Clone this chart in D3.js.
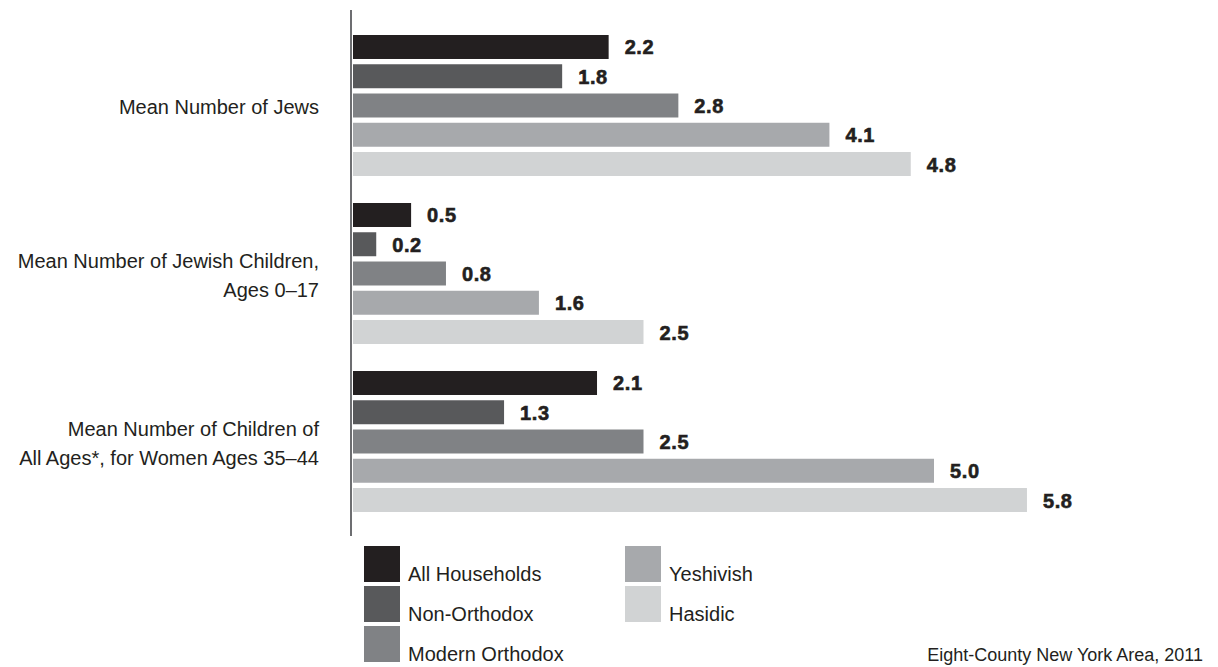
<!DOCTYPE html>
<html>
<head>
<meta charset="utf-8">
<script src="https://cdn.jsdelivr.net/npm/d3@7"></script>
<style>
  html, body { margin: 0; padding: 0; background: #ffffff; }
  svg { display: block; }
</style>
</head>
<body>
<svg id="chart" width="1218" height="667"></svg>
<script>
// ---- Data ----
const categories = [
  ["Mean Number of Jews"],
  ["Mean Number of Jewish Children,", "Ages 0\u201317"],
  ["Mean Number of Children of", "All Ages*, for Women Ages 35\u201344"]
];
const seriesNames = ["All Households", "Non-Orthodox", "Modern Orthodox", "Yeshivish", "Hasidic"];
const allHouseholds = [2.2, 0.5, 2.1];
const nonOrthodox   = [1.8, 0.2, 1.3];
const modernOrthodox = [2.8, 0.8, 2.5];
const yeshivish     = [4.1, 1.6, 5.0];
const hasidic       = [4.8, 2.5, 5.8];
const seriesValues = [allHouseholds, nonOrthodox, modernOrthodox, yeshivish, hasidic];
const seriesColors = ["#231f20", "#58595b", "#808285", "#a7a9ac", "#d1d3d4"];
const footnote = "Eight-County New York Area, 2011";

// ---- Layout ----
const svg = d3.select("#chart");
const groupIdx = categories.map((d, i) => i);

const x = d3.scaleLinear().domain([0, 6]).range([353, 353 + 6 * 116.2]);
const y0 = d3.scaleBand().domain(groupIdx).range([35, 512]).paddingInner(27 / 168).paddingOuter(0);
const y1 = d3.scaleBand().domain(seriesNames).range([0, y0.bandwidth()]).paddingInner(0.18).paddingOuter(0);
const color = d3.scaleOrdinal().domain(seriesNames).range(seriesColors);

const fontReg = "'Liberation Sans', Arial, sans-serif";
const fontBold = "'Liberation Sans', Arial, sans-serif";

// Bars
const groups = svg.append("g").selectAll("g").data(groupIdx).join("g")
  .attr("transform", g => `translate(0,${y0(g)})`);

groups.selectAll("rect")
  .data(g => seriesNames.map((s, si) => ({ s, v: seriesValues[si][g] })))
  .join("rect")
  .attr("x", x(0))
  .attr("y", d => y1(d.s))
  .attr("width", d => x(d.v) - x(0))
  .attr("height", y1.bandwidth())
  .attr("fill", d => color(d.s));

groups.selectAll("text.val")
  .data(g => seriesNames.map((s, si) => ({ s, v: seriesValues[si][g] })))
  .join("text")
  .attr("class", "val")
  .attr("x", d => x(d.v) + 16)
  .attr("y", d => y1(d.s) + y1.bandwidth() / 2 + 7.5)
  .attr("font-family", fontBold)
  .attr("font-weight", "bold")
  .attr("font-size", "20px")
  .attr("letter-spacing", "0.6px")
  .attr("fill", "#231f20")
  .attr("stroke", "#231f20")
  .attr("stroke-width", 0.6)
  .text(d => d3.format(".1f")(d.v));

// Axis line
svg.append("line")
  .attr("x1", 351).attr("x2", 351)
  .attr("y1", 10).attr("y2", 536)
  .attr("stroke", "#6d6e71").attr("stroke-width", 2);

// Category labels
const lineGap = 29;
svg.append("g").selectAll("text").data(groupIdx).join("text")
  .attr("text-anchor", "end")
  .attr("font-family", fontReg)
  .attr("font-size", "20px")
  .attr("fill", "#231f20")
  .each(function (g) {
    const lines = categories[g];
    const cy = y0(g) + y0.bandwidth() / 2 + 1.5;
    const start = cy - (lines.length - 1) * lineGap / 2;
    d3.select(this).selectAll("tspan").data(lines).join("tspan")
      .attr("x", 319)
      .attr("y", (l, i) => start + i * lineGap + 7)
      .text(l => l);
  });

// Legend
const legendItems = seriesNames.map((s, i) => ({
  s,
  col: i < 3 ? 0 : 1,
  row: i < 3 ? i : i - 3
}));
const legend = svg.append("g").selectAll("g").data(legendItems).join("g")
  .attr("transform", d => `translate(${d.col === 0 ? 364 : 625},${546 + d.row * 40})`);
legend.append("rect")
  .attr("width", 36).attr("height", 36)
  .attr("fill", d => color(d.s));
legend.append("text")
  .attr("x", 44).attr("y", 35)
  .attr("font-family", fontReg)
  .attr("font-size", "20px")
  .attr("fill", "#231f20")
  .text(d => d.s);

// Footnote
svg.append("text")
  .attr("x", 1203).attr("y", 661)
  .attr("text-anchor", "end")
  .attr("font-family", fontReg)
  .attr("font-size", "18px")
  .attr("fill", "#231f20")
  .text(footnote);
</script>
</body>
</html>
